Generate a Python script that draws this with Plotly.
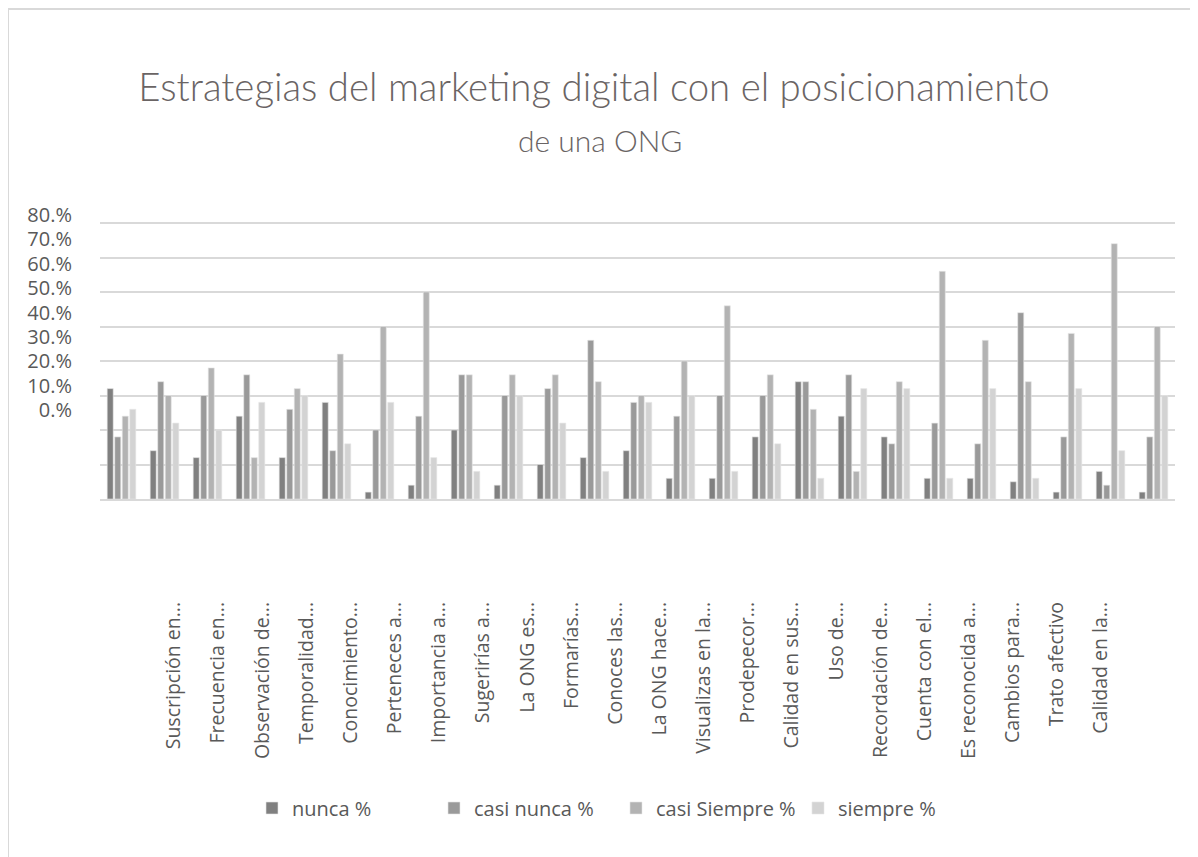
import plotly.graph_objects as go

# ---- data ----
group_index = list(range(1, 26))
nunca = [32, 14, 12, 24, 12, 28, 2, 4, 20, 4, 10, 12, 14, 6, 6, 18, 34, 24, 18, 6, 6, 5, 2, 8, 2]
casi_nunca = [18, 34, 30, 36, 26, 14, 20, 24, 36, 30, 32, 46, 28, 24, 30, 30, 34, 36, 16, 22, 16, 54, 18, 4, 18]
casi_siempre = [24, 30, 38, 12, 32, 42, 50, 60, 36, 36, 36, 34, 30, 40, 56, 36, 26, 8, 34, 66, 46, 34, 48, 74, 50]
siempre = [26, 22, 20, 28, 30, 16, 28, 12, 8, 30, 22, 8, 28, 30, 8, 16, 6, 32, 32, 6, 32, 6, 32, 14, 30]

category_labels = [
    "Suscripción en...", "Frecuencia en...", "Observación de...", "Temporalidad...",
    "Conocimiento...", "Perteneces a...", "Importancia a...", "Sugerirías a...",
    "La ONG es...", "Formarías...", "Conoces las...", "La ONG hace...",
    "Visualizas en la...", "Prodepecor...", "Calidad en sus...", "Uso de...",
    "Recordación de...", "Cuenta con el...", "Es reconocida a...", "Cambios para...",
    "Trato afectivo", "Calidad en la...",
]
y_tick_vals = [0, 10, 20, 30, 40, 50, 60, 70, 80]
y_tick_text = ["0.%", "10.%", "20.%", "30.%", "40.%", "50.%", "60.%", "70.%", "80.%"]

series = [
    ("nunca %", nunca, "#808080"),
    ("casi nunca %", casi_nunca, "#9a9a9a"),
    ("casi Siempre %", casi_siempre, "#b3b3b3"),
    ("siempre %", siempre, "#d3d3d3"),
]

fig = go.Figure()
for name, vals, col in series:
    fig.add_trace(go.Bar(
        x=group_index, y=vals, name=name,
        marker=dict(color=col, line=dict(color="#e6e6e6", width=0.6)),
    ))
# empty helper traces so the label-only axes are rendered
fig.add_trace(go.Scatter(x=[None], y=[None], xaxis="x", yaxis="y2",
                         showlegend=False, hoverinfo="skip", mode="markers"))
fig.add_trace(go.Scatter(x=[None], y=[None], xaxis="x2", yaxis="y",
                         showlegend=False, hoverinfo="skip", mode="markers"))

# ---- geometry (reference pixel coords; page body adds an 8px offset) ----
OFF = 8
W, H = 1198 - OFF, 857 - OFF
ml, mr, mt, mb = 100 - OFF, 23, 200 - OFF, 247
ph = H - mt - mb  # 410
pw = W - ml - mr  # 1075

def fy(py):
    return (H - mb - (py - OFF)) / ph

def fx(px):
    return ((px - OFF) - ml) / pw

# label axis mapping
lab0, lab_step = 174, 44.15
x2_a = -(lab0 - 100) / lab_step
x2_b = x2_a + pw / lab_step

ytop = 80.4

fig.update_layout(
    width=W, height=H,
    margin=dict(l=ml, r=mr, t=mt, b=mb, pad=0),
    paper_bgcolor="white", plot_bgcolor="rgba(0,0,0,0)",
    barmode="group", bargap=0.3, bargroupgap=0.2,
    font=dict(family="Open Sans", color="#595959"),
    title=dict(
        text="Estrategias del marketing digital con el posicionamiento",
        font=dict(family="Lato", size=38.4, color="#6a6464", weight=300),
        x=fx(594), xanchor="center", xref="paper",
        y=1 - (88 - OFF) / H, yanchor="middle",
    ),
    xaxis=dict(
        range=[0.5, 25.5], showticklabels=False, ticks="",
        showgrid=False, zeroline=False,
        showline=True, linecolor="#d9d9d9", linewidth=1.5,
    ),
    yaxis=dict(
        domain=[fy(499), fy(223 - 0.4 * 3.45)], range=[0, ytop], dtick=10,
        showticklabels=False, ticks="",
        showgrid=True, gridcolor="#d9d9d9", gridwidth=1.5,
        zeroline=False, showline=False,
    ),
    yaxis2=dict(
        domain=[fy(410), fy(215)], range=[0, 80],
        anchor="free", position=0, side="left",
        tickvals=y_tick_vals, ticktext=y_tick_text,
        ticks="outside", ticklen=24, tickcolor="rgba(0,0,0,0)",
        showgrid=False, zeroline=False, showline=False,
        tickfont=dict(family="Open Sans", size=20, color="#595959"),
    ),
    xaxis2=dict(
        overlaying="x", range=[x2_a, x2_b],
        anchor="free", position=fy(597), side="bottom",
        tickvals=list(range(len(category_labels))), ticktext=category_labels,
        tickangle=-90, ticks="", showgrid=False, zeroline=False, showline=False,
        tickfont=dict(family="Open Sans", size=19.5, color="#595959"),
    ),
    legend=dict(
        orientation="h", x=fx(252), xanchor="left", y=fy(808), yanchor="middle",
        font=dict(family="Open Sans", size=20, color="#595959"),
        itemwidth=30, entrywidth=137, entrywidthmode="pixels",
    ),
    annotations=[dict(
        text="de una ONG", xref="paper", yref="paper",
        x=fx(600), y=fy(140), xanchor="center", yanchor="middle",
        showarrow=False, font=dict(family="Lato", size=30, color="#6a6464", weight=300),
    )],
    shapes=[dict(
        type="rect", xref="paper", yref="paper",
        x0=fx(8), x1=fx(1210), y0=fy(870), y1=fy(9),
        line=dict(color="#d9d9d9", width=2), fillcolor="rgba(0,0,0,0)", layer="below",
    )],
)

fig.write_html("out.html")
